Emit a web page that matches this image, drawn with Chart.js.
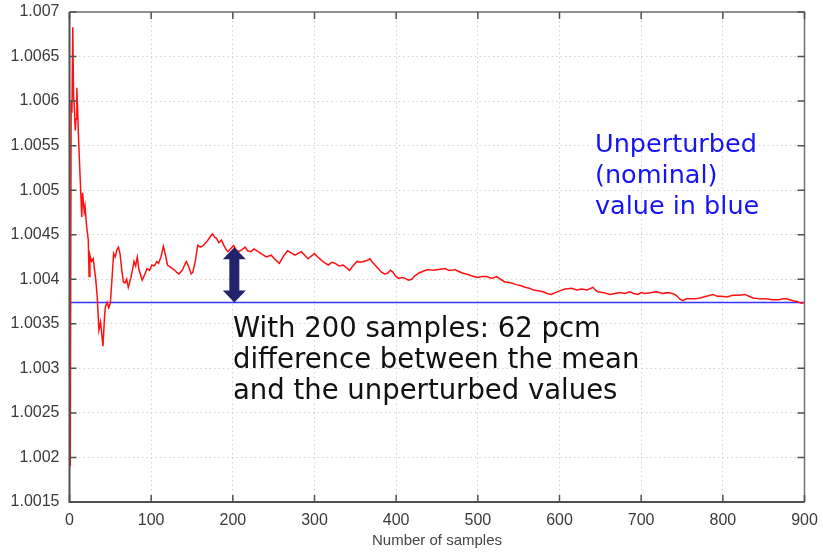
<!DOCTYPE html>
<html>
<head>
<meta charset="utf-8">
<script src="https://cdn.jsdelivr.net/npm/chart.js@4/dist/chart.umd.min.js"></script>
<style>
  html, body { margin: 0; padding: 0; background: #fff; }
  #wrap { width: 823px; height: 554px; }
</style>
</head>
<body>
<div id="wrap"><canvas id="meanChart"></canvas></div>
<script>
// Running mean of k-eff versus number of perturbed samples
const sampleCounts = [
  1, 2, 3, 4, 5, 6, 7, 8, 9, 10, 11, 15, 16, 18, 19, 21, 23, 24, 25, 27, 29, 32, 34, 36, 38, 41, 43, 44, 46, 48, 50,
  52, 54, 56, 58, 60, 62, 64, 66, 68, 70, 72, 75, 77, 79, 81, 83, 85, 87, 89, 92, 95, 98, 101, 104, 107, 109, 112,
  115, 118, 120, 123, 126, 129, 131, 134, 138, 141, 143, 146, 149, 151, 154, 157, 160, 164, 168, 171, 175, 178,
  180, 183, 186, 189, 192, 194, 197, 201, 204, 207, 211, 215, 218, 222, 226, 231, 236, 241, 247, 252, 257, 262,
  267, 271, 276, 280, 284, 288, 292, 296, 300, 304, 309, 313, 317, 321, 325, 330, 335, 339, 343, 347, 352, 356,
  360, 364, 368, 371, 374, 378, 382, 386, 390, 393, 396, 399, 403, 407, 411, 415, 419, 423, 428, 433, 439, 445,
  452, 460, 464, 468, 472, 476, 481, 486, 492, 500, 505, 511, 517, 523, 528, 533, 540, 547, 552, 558, 563, 568,
  574, 580, 585, 590, 595, 600, 607, 615, 621, 627, 634, 641, 644, 647, 654, 662, 668, 674, 680, 686, 691, 696,
  700, 704, 711, 719, 726, 733, 738, 743, 747, 751, 755, 760, 766, 772, 780, 788, 793, 798, 805, 812, 820, 827,
  832, 837, 845, 853, 860, 868, 874, 878, 882, 886, 891, 896, 900
];
const meanValues = [
  1.0019, 1.0060, 1.00587, 1.00683, 1.00605, 1.00592, 1.00567, 1.00580, 1.00615, 1.00590, 1.00560, 1.00470,
  1.00497, 1.00476, 1.00482, 1.00459, 1.00444, 1.00403, 1.00427, 1.00420, 1.00423, 1.00401, 1.00380, 1.00343,
  1.00352, 1.00325, 1.00360, 1.00369, 1.00374, 1.00368, 1.00373,
  1.00400, 1.00429, 1.00425, 1.00433, 1.00436, 1.00428, 1.00410, 1.00397, 1.00396, 1.00400, 1.00391, 1.00401,
  1.00410, 1.00420, 1.00415, 1.00425, 1.00411, 1.00405, 1.00399, 1.00405, 1.00412, 1.00410, 1.00416, 1.00415,
  1.00420, 1.00418, 1.00425,
  1.00437, 1.00425, 1.00416, 1.00414, 1.00412, 1.00410, 1.00408, 1.00406, 1.00410, 1.00416, 1.00420, 1.00414,
  1.00406, 1.00408, 1.00420, 1.00438, 1.00436, 1.00438, 1.00442, 1.00446, 1.00451, 1.00447,
  1.00446, 1.00441, 1.00444, 1.00438, 1.00433, 1.00431, 1.00434, 1.00438, 1.00433, 1.00431, 1.00433, 1.00436,
  1.00432, 1.00431, 1.00434, 1.00431, 1.00428, 1.00425, 1.00427, 1.00422, 1.00418, 1.00426,
  1.00432, 1.00430, 1.00427, 1.00429, 1.00431, 1.00427, 1.00423, 1.00426, 1.00429, 1.00425, 1.00421, 1.00418,
  1.00416, 1.00419, 1.00418, 1.00415, 1.00416, 1.00413, 1.00410, 1.00415, 1.00420, 1.00419,
  1.00420, 1.00421, 1.00423, 1.00419, 1.00416, 1.00412, 1.00408, 1.00406, 1.00407, 1.00410, 1.00408, 1.00404,
  1.00401, 1.00402, 1.00401, 1.00399, 1.00400, 1.00404, 1.00407, 1.00409, 1.00411, 1.00410,
  1.00411, 1.00412, 1.00410, 1.00410, 1.00411, 1.00409, 1.00407, 1.00406, 1.00404, 1.00402, 1.00403, 1.00403,
  1.00401, 1.00403, 1.00400, 1.00397, 1.00396, 1.00394, 1.00393, 1.00391, 1.00390, 1.00388,
  1.00387, 1.00386, 1.00384, 1.00383, 1.00385, 1.00387, 1.00389, 1.00390, 1.00388, 1.00389, 1.00388, 1.00391,
  1.00388, 1.00386, 1.00385, 1.00383, 1.00384, 1.00385, 1.00384, 1.00386, 1.00384, 1.00383,
  1.00385, 1.00384, 1.00385, 1.00386, 1.00384, 1.00385, 1.00384, 1.00382, 1.00378, 1.00376, 1.00378, 1.00378,
  1.00378, 1.00379, 1.00381, 1.00383, 1.00381, 1.00381, 1.00380, 1.00382, 1.00382, 1.00383,
  1.00381, 1.00379, 1.00378, 1.00378, 1.00377, 1.00377, 1.00378, 1.00378, 1.00377, 1.00376, 1.00375, 1.00373,
  1.00374
];
const nominalValue = 1.00374;   // unperturbed k-eff
const pcmDifference = 62;       // mean minus nominal after 200 samples
const markedSample = 200;

const xTickValues = [0, 100, 200, 300, 400, 500, 600, 700, 800, 900];
const yTickValues = [1.0015, 1.002, 1.0025, 1.003, 1.0035, 1.004, 1.0045, 1.005, 1.0055, 1.006, 1.0065, 1.007];
const yTickLabels = ['1.0015', '1.002', '1.0025', '1.003', '1.0035', '1.004', '1.0045', '1.005', '1.0055', '1.006', '1.0065', '1.007'];

const blueNoteLines = ['Unperturbed', '(nominal)', 'value in blue'];
const blackNoteLines = ['With 200 samples: 62 pcm', 'difference between the mean', 'and the unperturbed values'];

const tickFont = { family: 'Liberation Sans, Arial, sans-serif', size: 16 };

// gnuplot-like frame with inward ticks on all four sides
const framePlugin = {
  id: 'frame',
  afterDraw(chart) {
    const { ctx, chartArea: a, scales } = chart;
    const tl = 7;
    ctx.save();
    ctx.strokeStyle = '#707070';
    ctx.lineWidth = 1.5;
    ctx.beginPath();
    ctx.moveTo(a.left, a.top); ctx.lineTo(a.right, a.top); ctx.lineTo(a.right, a.bottom);
    ctx.stroke();
    ctx.strokeStyle = '#505050';
    ctx.lineWidth = 2;
    ctx.beginPath();
    ctx.moveTo(a.left, a.top); ctx.lineTo(a.left, a.bottom); ctx.lineTo(a.right, a.bottom);
    ctx.stroke();
    ctx.lineWidth = 1.5;
    ctx.beginPath();
    xTickValues.forEach(v => {
      const px = scales.x.getPixelForValue(v);
      ctx.moveTo(px, a.bottom); ctx.lineTo(px, a.bottom - tl);
      ctx.moveTo(px, a.top); ctx.lineTo(px, a.top + tl);
    });
    yTickValues.forEach(v => {
      const py = scales.y.getPixelForValue(v);
      ctx.moveTo(a.left, py); ctx.lineTo(a.left + tl, py);
      ctx.moveTo(a.right, py); ctx.lineTo(a.right - tl, py);
    });
    ctx.stroke();
    ctx.restore();
  }
};

// double arrow for the 200-sample gap and the two text notes
const notesPlugin = {
  id: 'notes',
  afterDatasetsDraw(chart) {
    const { ctx, scales } = chart;
    const x = scales.x.getPixelForValue(markedSample) + 1.5;
    const yLow = scales.y.getPixelForValue(nominalValue);
    const yHigh = scales.y.getPixelForValue(nominalValue + pcmDifference * 1e-5);
    const headH = 12, headW = 11.5, shaftW = 5;
    ctx.save();
    ctx.fillStyle = '#23236b';
    ctx.beginPath();
    ctx.moveTo(x, yHigh);
    ctx.lineTo(x + headW, yHigh + headH);
    ctx.lineTo(x + shaftW, yHigh + headH);
    ctx.lineTo(x + shaftW, yLow - headH);
    ctx.lineTo(x + headW, yLow - headH);
    ctx.lineTo(x, yLow);
    ctx.lineTo(x - headW, yLow - headH);
    ctx.lineTo(x - shaftW, yLow - headH);
    ctx.lineTo(x - shaftW, yHigh + headH);
    ctx.lineTo(x - headW, yHigh + headH);
    ctx.closePath();
    ctx.fill();

    ctx.textAlign = 'left';
    ctx.textBaseline = 'alphabetic';
    ctx.fillStyle = '#1414f5';
    ctx.font = '25.5px "DejaVu Sans", Verdana, sans-serif';
    blueNoteLines.forEach((t, i) => ctx.fillText(t, 595, 152 + i * 31));
    ctx.fillStyle = '#111';
    ctx.font = '27.5px "DejaVu Sans", Verdana, sans-serif';
    blackNoteLines.forEach((t, i) => ctx.fillText(t, 233, 337 + i * 31));
    ctx.restore();
  }
};

new Chart(document.getElementById('meanChart').getContext('2d'), {
  type: 'line',
  data: {
    datasets: [
      {
        label: 'Mean',
        data: sampleCounts.map((n, i) => ({ x: n, y: meanValues[i] })),
        borderColor: '#ff1010',
        borderWidth: 1.5,
        pointRadius: 0,
        tension: 0
      },
      {
        label: 'Nominal',
        data: [{ x: 0, y: nominalValue }, { x: 900, y: nominalValue }],
        borderColor: '#3535ff',
        borderWidth: 1.4,
        pointRadius: 0
      }
    ]
  },
  options: {
    responsive: true,
    maintainAspectRatio: false,
    animation: false,
    layout: { padding: { top: 12, right: 18.5, left: 0, bottom: 0 } },
    plugins: {
      legend: { display: false },
      tooltip: { enabled: false }
    },
    scales: {
      x: {
        type: 'linear',
        min: 0,
        max: 900,
        afterFit: s => { s.height = 52; s.paddingLeft = 0; s.paddingRight = 0; },
        afterBuildTicks: s => { s.ticks = xTickValues.map(v => ({ value: v })); },
        ticks: { font: tickFont, color: '#3a3a3a', padding: 9, maxRotation: 0 },
        grid: { color: '#d2d2d2', drawTicks: false },
        border: { display: false, dash: [1.5, 3] },
        title: {
          display: true,
          text: 'Number of samples',
          font: { family: 'Liberation Sans, Arial, sans-serif', size: 15 },
          color: '#454545',
          padding: { top: 0, bottom: 4 }
        }
      },
      y: {
        min: 1.0015,
        max: 1.007,
        afterFit: s => { s.width = 69.5; s.paddingTop = 0; s.paddingBottom = 0; },
        afterBuildTicks: s => { s.ticks = yTickValues.map(v => ({ value: v })); },
        ticks: {
          font: tickFont,
          color: '#3a3a3a',
          padding: 10,
          callback: (v, i) => yTickLabels[i]
        },
        grid: { color: '#d2d2d2', drawTicks: false },
        border: { display: false, dash: [1.5, 3] }
      }
    }
  },
  plugins: [framePlugin, notesPlugin]
});
</script>
</body>
</html>
